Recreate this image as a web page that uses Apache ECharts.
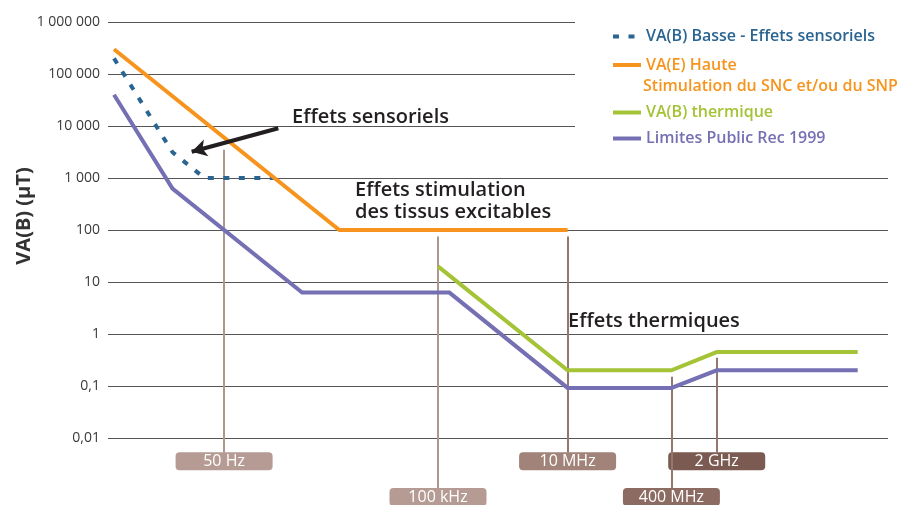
<!DOCTYPE html>
<html><head><meta charset="utf-8">
<script src="https://cdn.jsdelivr.net/npm/echarts@6/dist/echarts.min.js"></script>
<style>html,body{margin:0;padding:0;background:#fff}#c{width:902px;height:505px}</style>
</head><body><div id="c"></div>
<script>
// ---- data ----
const yTickLabels = ['0,01', '0,1', '1', '10', '100', '1 000', '10 000', '100 000', '1 000 000'];
const basseName = 'VA(B) Basse - Effets sensoriels';
const basseFreq = [1, 8, 25, 300];
const basseVal = [200000, 3125, 1000, 1000];
const hauteName = 'VA(E) Haute';
const hauteSub = 'Stimulation du SNC et/ou du SNP';
const hauteFreq = [1, 3000, 10000000];
const hauteVal = [300000, 100, 100];
const thermName = 'VA(B) thermique';
const thermFreq = [100000, 10000000, 400000000, 2000000000, 300000000000];
const thermVal = [20, 0.2, 0.2, 0.45, 0.45];
const publicName = 'Limites Public Rec 1999';
const publicFreq = [1, 8, 800, 150000, 10000000, 400000000, 2000000000, 300000000000];
const publicVal = [40000, 625, 6.25, 6.25, 0.092, 0.092, 0.2, 0.2];
const markerLabels = ['50 Hz', '100 kHz', '10 MHz', '400 MHz', '2 GHz'];
const markerFreq = [50, 100000, 10000000, 400000000, 2000000000];
const markerTop = [3500, 75, 75, 0.15, 0.35];
const markerRow = [0, 1, 0, 1, 0];
const annotSensoriels = 'Effets sensoriels';
const annotStimulation = 'Effets stimulation\ndes tissus excitables';
const annotThermiques = 'Effets thermiques';
const yAxisTitle = 'VA(B) (µT)';
// arrow annotation (data coords: frequency, value)
const arrowFrom = [343, 9040];
const arrowTo = [15.8, 3200];

// ---- styles ----
const FONT = "'Open Sans', 'DejaVu Sans', sans-serif";
const C_BLUE = '#2a6592', C_ORANGE = '#f7941d', C_GREEN = '#a5c337', C_PURPLE = '#7570b3';
const GRIDLINE = '#555555';
const BOX_CENTER = [0.00356, 0.000733];
const BOX_TOP = [0.00526, 0.00108];
const BOX_COLORS = ['#b59b93', '#b59b93', '#a1837a', '#8c6b62', '#7b5b51'];
const VLINE_COLORS = ['#ae978f', '#ae978f', '#94776e', '#94776e', '#94776e'];
const BOX_PATH = 'path://M4,0H93Q97,0 97,4V14Q97,18 93,18H4Q0,18 0,14V4Q0,0 4,0Z';

const zip = (a, b) => a.map((x, i) => [x, b[i]]);

const lineSeries = (name, f, v, color, dashed) => ({
  name, type: 'line', xAxisIndex: 2, yAxisIndex: 2, z: 3,
  data: zip(f, v), symbol: 'none', silent: true,
  lineStyle: { color, width: 4, type: dashed ? [6, 9.5] : 'solid', cap: 'butt', join: 'miter' },
  itemStyle: { color }
});

const legendItem = (name, color, centerY) => ({
  data: [name], left: 611, top: centerY - 8, itemWidth: 28, itemHeight: 16, padding: 0,
  selectedMode: false,
  itemStyle: { opacity: 0 },
  lineStyle: { width: 4 },
  textStyle: { color, fontSize: 16, fontWeight: 600, fontFamily: FONT, lineHeight: 16 }
});

const option = {
  animation: false,
  textStyle: { fontFamily: FONT },
  grid: [
    { left: 108, top: 22, width: 467, height: 416 },
    { left: 108, top: 178, width: 780, height: 260 },
    { left: 114, top: 22, width: 777.6, height: 468 }
  ],
  xAxis: [
    { gridIndex: 0, type: 'value', show: false, min: 0, max: 1 },
    { gridIndex: 1, type: 'value', show: false, min: 0, max: 1 },
    { gridIndex: 2, type: 'log', logBase: 10, min: 1, max: 1e12, show: false }
  ],
  yAxis: [
    { gridIndex: 0, type: 'log', logBase: 10, min: 0.01, max: 1e6, splitNumber: 8,
      axisLine: { show: false }, axisTick: { show: false },
      axisLabel: { margin: 8, fontSize: 14, color: '#3a3a3a', fontFamily: FONT,
        formatter: v => yTickLabels[Math.round(Math.log10(v)) + 2] },
      splitLine: { show: true, lineStyle: { color: GRIDLINE, width: 1 } } },
    { gridIndex: 1, type: 'log', logBase: 10, min: 0.01, max: 1000, splitNumber: 3,
      axisLine: { show: false }, axisTick: { show: false }, axisLabel: { show: false },
      splitLine: { show: true, lineStyle: { color: GRIDLINE, width: 1 } } },
    { gridIndex: 2, type: 'log', logBase: 10, min: 1e-3, max: 1e6, show: false }
  ],
  legend: [
    legendItem(basseName, C_BLUE, 36.5),
    legendItem(hauteName, C_ORANGE, 65),
    legendItem(thermName, C_GREEN, 112.5),
    legendItem(publicName, C_PURPLE, 138.5)
  ],
  graphic: [
    { type: 'text', x: 643, y: 86.7, silent: true,
      style: { text: hauteSub, fill: C_ORANGE, font: `600 16px ${FONT}`, verticalAlign: 'middle' } },
    { type: 'text', x: 292, y: 117, silent: true,
      style: { text: annotSensoriels, fill: '#231f20', font: `600 20px ${FONT}`, verticalAlign: 'middle' } },
    { type: 'text', x: 355, y: 180, silent: true,
      style: { text: annotStimulation, fill: '#231f20', font: `600 20px ${FONT}`, lineHeight: 21.5, verticalAlign: 'top' } },
    { type: 'text', x: 568, y: 321, silent: true,
      style: { text: annotThermiques, fill: '#231f20', font: `600 20px ${FONT}`, verticalAlign: 'middle' } },
    { type: 'text', x: 24, y: 216, rotation: Math.PI / 2, silent: true,
      style: { text: yAxisTitle, fill: '#333333', font: `bold 20px ${FONT}`, align: 'center', verticalAlign: 'middle' } }
  ],
  series: [
    { type: 'line', xAxisIndex: 0, yAxisIndex: 0, data: [] },
    { type: 'line', xAxisIndex: 1, yAxisIndex: 1, data: [] },
    {
      type: 'scatter', xAxisIndex: 2, yAxisIndex: 2, z: 1, silent: true, clip: false,
      symbol: BOX_PATH, symbolSize: [97, 18],
      data: markerLabels.map((lab, i) => ({
        name: lab, value: [markerFreq[i], BOX_CENTER[markerRow[i]]],
        itemStyle: { color: BOX_COLORS[i], opacity: 1 }
      })),
      itemStyle: { opacity: 1 },
      label: { show: true, position: 'inside', formatter: '{b}', color: '#ffffff', fontSize: 16, fontFamily: FONT },
      markLine: {
        z: 2, silent: true, symbol: ['none', 'none'], label: { show: false },
        lineStyle: { width: 2, type: 'solid' },
        data: markerLabels.map((lab, i) => [
          { coord: [markerFreq[i], markerTop[i]], lineStyle: { color: VLINE_COLORS[i], width: 2, type: 'solid' } },
          { coord: [markerFreq[i], BOX_TOP[markerRow[i]]] }
        ])
      }
    },
    lineSeries(basseName, basseFreq, basseVal, C_BLUE, true),
    lineSeries(hauteName, hauteFreq, hauteVal, C_ORANGE, false),
    lineSeries(thermName, thermFreq, thermVal, C_GREEN, false),
    lineSeries(publicName, publicFreq, publicVal, C_PURPLE, false),
    {
      type: 'line', xAxisIndex: 2, yAxisIndex: 2, z: 5, data: [], silent: true,
      markLine: {
        z: 6, silent: true, symbol: ['none', 'arrow'], symbolSize: [13, 15],
        label: { show: false },
        lineStyle: { color: '#231f20', width: 4, type: 'solid' },
        data: [[{ coord: arrowFrom }, { coord: arrowTo }]]
      }
    }
  ]
};
const chart = echarts.init(document.getElementById('c'), null, { renderer: 'canvas' });
chart.setOption(option);
</script></body></html>
